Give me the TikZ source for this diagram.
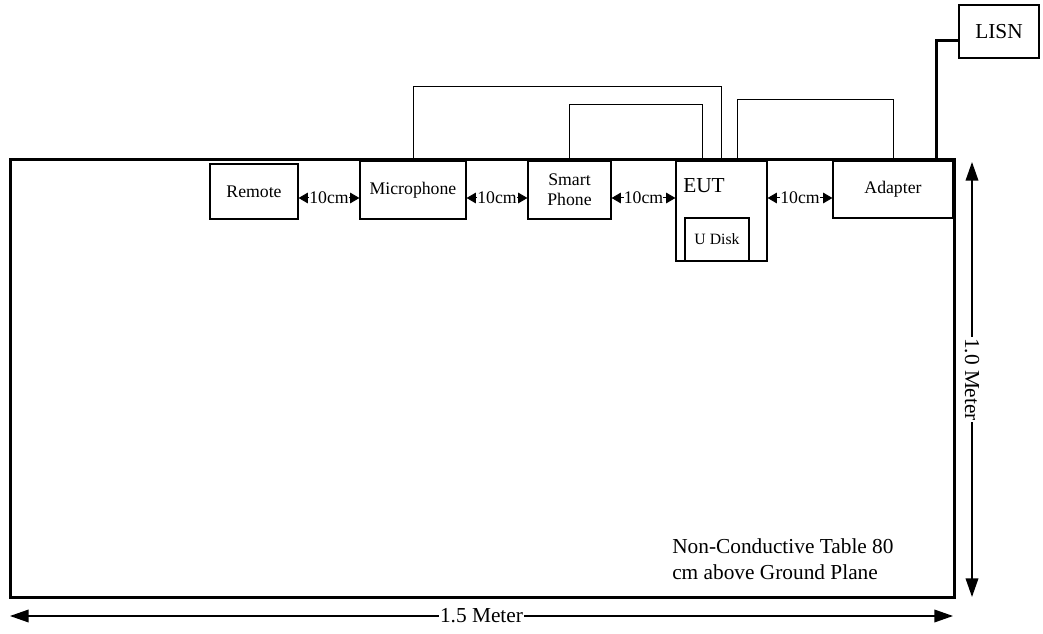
\documentclass[tikz,border=0pt]{standalone}
\usepackage{fontspec}
\setmainfont{Liberation Serif}
\usetikzlibrary{arrows.meta}
\tikzset{
  box/.style={draw, line width=0.9pt, inner sep=0pt, font=\fontsize{13.3}{15}\selectfont, align=center},
  cable/.style={line width=0.75pt},
  gap/.style={fill=white, inner sep=0pt, font=\fontsize{13.3}{15}\selectfont},
  gaparrow/.style={line width=0.75pt, -{Triangle[length=7pt,width=8pt]}},
  dim/.style={line width=1.1pt, {Triangle[length=14pt,width=9.5pt]}-{Triangle[length=14pt,width=9.5pt]}},
  big/.style={font=\fontsize{16}{20.25}\selectfont},
}
\begin{document}
\begin{tikzpicture}[x=0.75pt,y=-0.75pt]
\path[use as bounding box, fill=white] (0,0) rectangle (1043,634);

% table
\node[draw, line width=2.25pt, inner sep=0pt, minimum width=708pt, minimum height=327.75pt] (table) at (482,378.5) {};

% devices
\node[box, minimum width=66pt, minimum height=41.25pt] (remote) at (254,191.5) {Remote};
\node[box, minimum width=79.5pt, minimum height=43.5pt] (mic) at (413,190) {Microphone};
\node[box, minimum width=62.25pt, minimum height=43.5pt] (phone) at (569.5,190) {Smart\\Phone};
\node[box, minimum width=68.25pt, minimum height=75pt] (eut) at (721.5,211) {};
\node[big, anchor=west, inner sep=0pt] (euttext) at (683,186) {EUT};
\node[box, minimum width=48pt, minimum height=32.25pt, font=\fontsize{11.8}{14}\selectfont] (udisk) at (717,239.5) {U Disk};
\node[box, minimum width=90pt, minimum height=42.75pt] (adapter) at (893,189.5) {Adapter};
\node[box, big, minimum width=60pt, minimum height=39.75pt] (lisn) at (999,31.5) {LISN};

% cables
\draw[cable] (mic.north) -- ++(0,-74) -| (eut.north);
\draw[cable] (phone.north) -- ++(0,-56) -| ([xshift=20.25pt]eut.north west);
\draw[cable] ([xshift=46.5pt]eut.north west) -- ++(0,-61) -| (adapter.north);
\draw[line width=2.2pt] ([xshift=-12.75pt]adapter.north east) |- ([yshift=-7.1pt]lisn.west);

% 10cm spacings
\node[gap] (g1) at (329,198) {10cm};
\draw[gaparrow] (g1.west) -- (g1.west -| remote.east);
\draw[gaparrow] (g1.east) -- (g1.east -| mic.west);
\node[gap] (g2) at (497,198) {10cm};
\draw[gaparrow] (g2.west) -- (g2.west -| mic.east);
\draw[gaparrow] (g2.east) -- (g2.east -| phone.west);
\node[gap] (g3) at (643.5,198) {10cm};
\draw[gaparrow] (g3.west) -- (g3.west -| phone.east);
\draw[gaparrow] (g3.east) -- (g3.east -| eut.west);
\node[gap] (g4) at (800,198) {10cm};
\draw[gaparrow] (g4.west) -- (g4.west -| eut.east);
\draw[gaparrow] (g4.east) -- (g4.east -| adapter.west);

% table note
\node[big, anchor=base west, align=left, inner sep=0pt] (note) at (672,580) {Non-Conductive Table 80\\cm above Ground Plane};

% dimensions
\coordinate (hl) at (10,616);
\coordinate (hr) at (953,616);
\draw[dim] (hl) -- (hr) node[midway, fill=white, inner sep=0.5pt, big] (hlabel) {1.5 Meter};
\coordinate (vt) at (972,162);
\coordinate (vb) at (972,597);
\draw[dim] (vt) -- (vb) node[midway, fill=white, inner sep=0.5pt, big, rotate=-90] (vlabel) {1.0 Meter};
\end{tikzpicture}
\end{document}
